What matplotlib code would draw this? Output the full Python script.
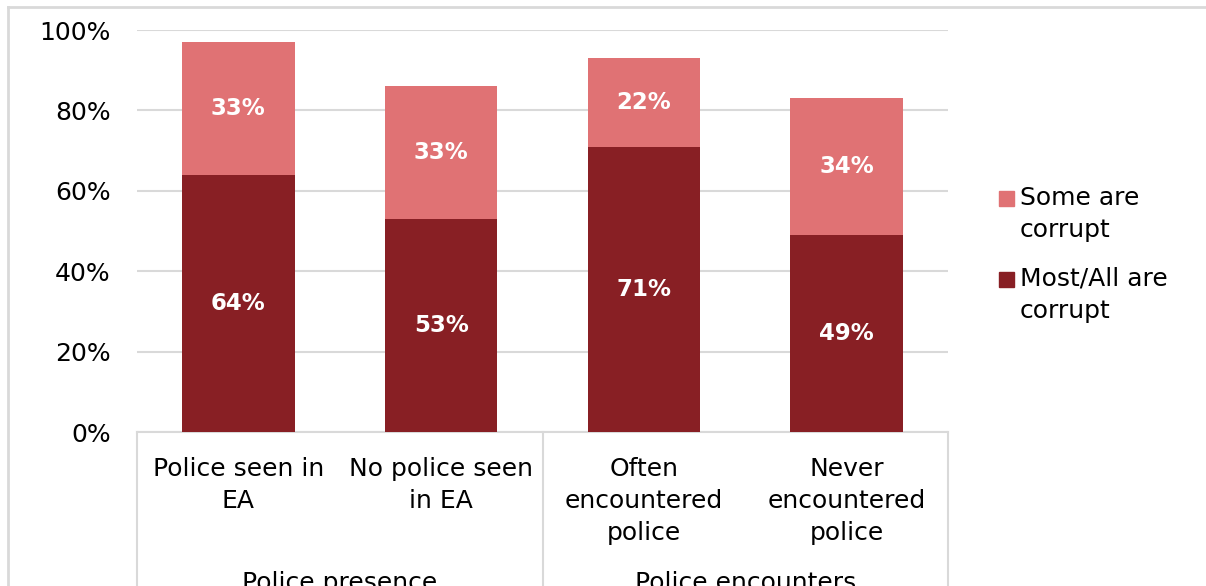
import matplotlib.pyplot as plt
from matplotlib.patches import Rectangle
from matplotlib.lines import Line2D

plt.rcParams['font.family'] = ['DejaVu Sans']

categories = ["Police seen in\nEA", "No police seen\nin EA",
              "Often\nencountered\npolice", "Never\nencountered\npolice"]
groups = ["Police presence", "Police encounters"]
most_all = [64, 53, 71, 49]
some = [33, 33, 22, 34]
legend_labels = ["Some are\ncorrupt", "Most/All are\ncorrupt"]

dark = "#881F24"
light = "#E07274"
grid_col = "#D9D9D9"
fs = 18

fig = plt.figure(figsize=(12.06, 5.86), dpi=100)
W, H = 1206, 586
ax = fig.add_axes([137 / W, (H - 432) / H, 811 / W, 402 / H])

x = range(len(categories))
width = 0.556
ax.bar(x, most_all, width, color=dark, zorder=3)
ax.bar(x, some, width, bottom=most_all, color=light, zorder=3)

# value labels in the middle of each segment
for i in x:
    ax.text(i, most_all[i] / 2, f"{most_all[i]}%", ha='center', va='center',
            color='white', fontsize=16.5, fontweight='bold', zorder=4)
    ax.text(i, most_all[i] + some[i] / 2, f"{some[i]}%", ha='center', va='center',
            color='white', fontsize=16.5, fontweight='bold', zorder=4)

ax.set_xlim(-0.5, 3.5)
ax.set_ylim(0, 100)
ax.set_yticks([0, 20, 40, 60, 80, 100])
ax.set_yticklabels([f"{v}%" for v in range(0, 101, 20)], fontsize=fs, color='#000000')
ax.tick_params(axis='y', length=0, pad=19)
ax.set_xticks([])
ax.yaxis.grid(True, color=grid_col, linewidth=1.5, zorder=0)
for s in ['top', 'right', 'left']:
    ax.spines[s].set_visible(False)
ax.spines['bottom'].set_color(grid_col)
ax.spines['bottom'].set_linewidth(1.5)

# category and group labels below the axis
trans = ax.get_xaxis_transform()
for i, lab in enumerate(categories):
    ax.text(i, -0.062, lab, transform=trans, ha='center', va='top',
            fontsize=fs, linespacing=1.42)
ax.text(0.5, -0.347, groups[0], transform=trans, ha='center', va='top', fontsize=fs)
ax.text(2.5, -0.347, groups[1], transform=trans, ha='center', va='top', fontsize=fs)

# group separators
for xv in [-0.5, 1.5, 3.5]:
    ax.add_line(Line2D([xv, xv], [0, -0.5], transform=trans, color=grid_col,
                       linewidth=1.5, clip_on=False))

# outer frame of the chart area
fig.add_artist(Line2D([8 / W, 1.05], [1 - 7 / H, 1 - 7 / H], color=grid_col, linewidth=2))
fig.add_artist(Line2D([8 / W, 8 / W], [-0.05, 1 - 7 / H], color=grid_col, linewidth=2))

# legend: square marker beside the first line of each label
for lab, col, ytop in zip(legend_labels, [light, dark], [191, 272]):
    fig.add_artist(Rectangle((999 / W, 1 - (ytop + 15) / H), 15 / W, 15 / H,
                             color=col, transform=fig.transFigure))
    fig.text(1020 / W, 1 - (ytop - 5) / H, lab, ha='left', va='top',
             fontsize=fs, linespacing=1.42)

fig.savefig("out.png", dpi=100)
